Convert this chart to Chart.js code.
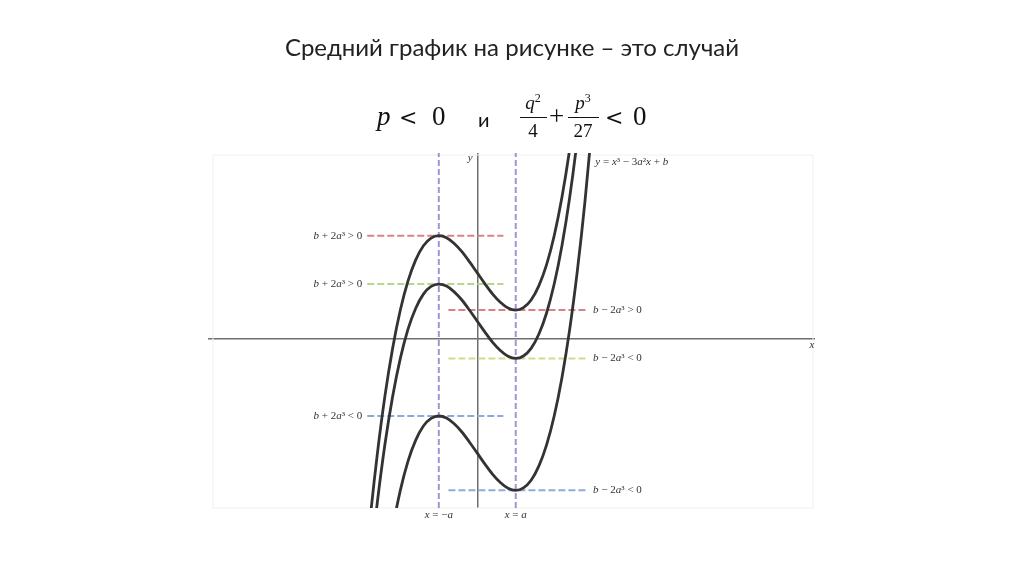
<!DOCTYPE html>
<html>
<head>
<meta charset="utf-8">
<script src="https://cdn.jsdelivr.net/npm/chart.js@4.4.1/dist/chart.umd.min.js"></script>
<style>
  html, body { margin: 0; padding: 0; background: #fff; }
  #page { position: relative; width: 1024px; height: 574px; overflow: hidden; }
  #wrap { position: absolute; left: 0; top: 0; width: 1024px; height: 574px; }
  .title { position: absolute; left: 0; width: 1024px; top: 32px; text-align: center;
           font-family: Lato, "Open Sans", sans-serif; font-size: 24px; color: #222; }
  .m { position: absolute; top: 101px; line-height: 30px; white-space: nowrap;
       font-family: "Liberation Serif", "DejaVu Serif", serif; font-size: 27px; color: #111; }
  .m i { font-style: italic; }
  .lt { font-family: "DejaVu Serif", serif; font-size: 22px; top: 103px; }
  .f { position: absolute; width: 60px; text-align: center; line-height: 20px; white-space: nowrap;
       font-family: "Liberation Serif", "DejaVu Serif", serif; font-size: 19px; color: #111; }
  .f i { font-style: italic; }
  .f sup { font-size: 12px; vertical-align: 7px; line-height: 0; }
  .bar { position: absolute; top: 117px; height: 1.3px; background: #111; }
  .ru { font-family: Lato, "Open Sans", sans-serif; font-size: 20px; }
</style>
</head>
<body>
<div id="page">
  <div id="wrap"><canvas id="plot" width="1024" height="574"></canvas></div>
  <div class="title">Средний график на рисунке – это случай</div>
  <span class="m" style="left:377px"><i>p</i></span>
  <span class="m lt" style="left:399px">&lt;</span>
  <span class="m" style="left:432px">0</span>
  <span class="m ru" style="left:478px; top:104px">и</span>
  <span class="f" style="left:503px; top:93px"><i>q</i><sup>2</sup></span>
  <span class="bar" style="left:520px; width:27px"></span>
  <span class="f" style="left:503px; top:121px">4</span>
  <span class="m" style="left:549px">+</span>
  <span class="f" style="left:553px; top:93px"><i>p</i><sup>3</sup></span>
  <span class="bar" style="left:568px; width:31px"></span>
  <span class="f" style="left:553px; top:121px">27</span>
  <span class="m lt" style="left:605px">&lt;</span>
  <span class="m" style="left:633px">0</span>
</div>
<script>
// значения x (a = 1)
const xs = [-3.0, -2.8, -2.6, -2.4, -2.2, -2.0, -1.8, -1.6, -1.4, -1.2, -1.0, -0.8, -0.6, -0.4, -0.2, 0,
            0.2, 0.4, 0.6, 0.8, 1.0, 1.2, 1.4, 1.6, 1.8, 2.0, 2.2, 2.4, 2.6, 2.8, 3.0];

// три кривые y = x^3 - 3a^2 x + b
const curveHigh = [-14.45, -10.0, -6.23, -3.07, -0.50, 1.55, 3.12, 4.25, 5.01, 5.42, 5.55, 5.44, 5.13, 4.69, 4.14, 3.55,
                   2.96, 2.41, 1.97, 1.66, 1.55, 1.68, 2.09, 2.85, 3.98, 5.55, 7.60, 10.17, 13.33, 17.10, 21.55];
const curveMid = [-17.05, -12.60, -8.83, -5.67, -3.10, -1.05, 0.52, 1.65, 2.41, 2.82, 2.95, 2.84, 2.53, 2.09, 1.54, 0.95,
                  0.36, -0.19, -0.63, -0.94, -1.05, -0.92, -0.51, 0.25, 1.38, 2.95, 5.00, 7.57, 10.73, 14.50, 18.95];
const curveLow = [-24.15, -19.70, -15.93, -12.77, -10.20, -8.15, -6.58, -5.45, -4.69, -4.28, -4.15, -4.26, -4.57, -5.01, -5.56, -6.15,
                  -6.74, -7.29, -7.73, -8.04, -8.15, -8.02, -7.61, -6.85, -5.72, -4.15, -2.10, 0.47, 3.63, 7.40, 11.85];

// уровни максимумов (x = -a) и минимумов (x = a)
const maxLevels = [5.55, 2.95, -4.15];
const minLevels = [1.55, -1.05, -8.15];
const maxLabels = ['> 0', '> 0', '< 0'];
const minLabels = ['> 0', '< 0', '< 0'];
const leftSpan = [-2.86, 0.68];
const rightSpan = [-0.75, 2.83];
const vLines = [-1, 1];
const xRange = [-7, 8.78];
const yRange = [-9.1, 10];

const maxColors = ['#d98286', '#b9d68c', '#8eaad8'];
const minColors = ['#d98286', '#cfdc8e', '#8eaad8'];

const datasets = [];
[curveHigh, curveMid, curveLow].forEach(c => {
  datasets.push({
    data: xs.map((x, i) => ({ x: x, y: c[i] })),
    showLine: true, borderColor: '#333', borderWidth: 2.8, pointRadius: 0,
    cubicInterpolationMode: 'monotone', order: 0
  });
});
maxLevels.forEach((v, i) => {
  datasets.push({
    data: leftSpan.map(x => ({ x: x, y: v })),
    showLine: true, borderColor: maxColors[i], borderWidth: 2, borderDash: [7, 3], pointRadius: 0, order: 1
  });
});
minLevels.forEach((v, i) => {
  datasets.push({
    data: rightSpan.map(x => ({ x: x, y: v })),
    showLine: true, borderColor: minColors[i], borderWidth: 2, borderDash: [7, 3], pointRadius: 0, order: 1
  });
});
vLines.forEach(x => {
  datasets.push({
    data: yRange.map(y => ({ x: x, y: y })),
    showLine: true, borderColor: '#a293d4', borderWidth: 2, borderDash: [6, 3], pointRadius: 0, order: 2
  });
});

// рисуем текст с курсивом
function drawRich(ctx, parts, x, y, align) {
  const size = 11;
  let w = 0;
  parts.forEach(p => {
    ctx.font = (p[1] === 'i' ? 'italic ' : '') + size + 'px "Liberation Serif", serif';
    w += ctx.measureText(p[0]).width;
  });
  let cx = align === 'right' ? x - w : align === 'center' ? x - w / 2 : x;
  parts.forEach(p => {
    ctx.font = (p[1] === 'i' ? 'italic ' : '') + size + 'px "Liberation Serif", serif';
    ctx.fillText(p[0], cx, y);
    cx += ctx.measureText(p[0]).width;
  });
}

const labelsPlugin = {
  id: 'labels',
  beforeDatasetsDraw(chart) {
    const a = chart.chartArea, ctx = chart.ctx;
    ctx.save();
    ctx.strokeStyle = '#efefef';
    ctx.lineWidth = 1;
    ctx.strokeRect(a.left + 5, a.top + 2, a.right - a.left - 7, a.bottom - a.top - 2);
    ctx.restore();
  },
  afterDraw(chart) {
    const ctx = chart.ctx, sx = chart.scales.x, sy = chart.scales.y;
    ctx.save();
    ctx.fillStyle = '#333';
    ctx.textBaseline = 'middle';
    maxLevels.forEach((v, i) => {
      drawRich(ctx, [['b', 'i'], [' + 2', 'n'], ['a', 'i'], ['³ ' + maxLabels[i], 'n']],
        sx.getPixelForValue(leftSpan[0]) - 5, sy.getPixelForValue(v), 'right');
    });
    minLevels.forEach((v, i) => {
      drawRich(ctx, [['b', 'i'], [' − 2', 'n'], ['a', 'i'], ['³ ' + minLabels[i], 'n']],
        sx.getPixelForValue(rightSpan[1]) + 7, sy.getPixelForValue(v), 'left');
    });
    vLines.forEach((x, i) => {
      const parts = i === 0 ? [['x', 'i'], [' = −', 'n'], ['a', 'i']] : [['x', 'i'], [' = ', 'n'], ['a', 'i']];
      drawRich(ctx, parts, sx.getPixelForValue(x), sy.bottom + 7, 'center');
    });
    drawRich(ctx, [['y', 'i'], [' = ', 'n'], ['x', 'i'], ['³ − 3', 'n'], ['a', 'i'], ['²', 'n'], ['x', 'i'], [' + ', 'n'], ['b', 'i']],
      sx.getPixelForValue(3.07), sy.top + 9, 'left');
    drawRich(ctx, [['y', 'i']], sx.getPixelForValue(0) - 7, sy.top + 5, 'center');
    drawRich(ctx, [['x', 'i']], sx.right - 3, sy.getPixelForValue(0) + 6, 'center');
    ctx.restore();
  }
};

const zeroOnly = { afterBuildTicks(scale) { scale.ticks = [{ value: 0 }]; } };

new Chart(document.getElementById('plot'), {
  type: 'scatter',
  data: { datasets: datasets },
  options: {
    responsive: false,
    animation: false,
    layout: { padding: { left: 208, right: 209, top: 153, bottom: 66 } },
    plugins: { legend: { display: false }, tooltip: { enabled: false } },
    scales: {
      x: Object.assign({
        type: 'linear', min: xRange[0], max: xRange[1],
        ticks: { display: false },
        grid: { color: '#6e6e6e', lineWidth: 1.5, drawTicks: false },
        border: { display: false }
      }, zeroOnly),
      y: Object.assign({
        type: 'linear', min: yRange[0], max: yRange[1],
        ticks: { display: false },
        grid: { color: '#6e6e6e', lineWidth: 1.5, drawTicks: false },
        border: { display: false }
      }, zeroOnly)
    }
  },
  plugins: [labelsPlugin]
});
</script>
</body>
</html>
